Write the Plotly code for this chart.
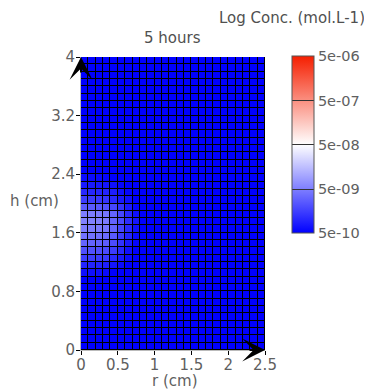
import numpy as np
import plotly.graph_objects as go

# Grid (cell centres, cm)
r_centers = [round(0.05 + 0.1 * i, 2) for i in range(25)]
h_centers = [round(0.05 + 0.1 * j, 2) for j in range(40)]

background_conc = 5e-10  # mol/L, everywhere outside the plume

# Plume patch: rows h-index 10..23, columns r-index 0..7
patch_row_start = 10
patch_conc = [
    [6.6e-10, 6.6e-10, 6.6e-10, 6.0e-10, 5.0e-10, 5.0e-10, 5.0e-10, 5.0e-10],
    [9.4e-10, 9.4e-10, 9.4e-10, 8.6e-10, 7.2e-10, 6.0e-10, 5.0e-10, 5.0e-10],
    [1.48e-9, 1.48e-9, 1.45e-9, 1.40e-9, 1.03e-9, 7.9e-10, 6.0e-10, 5.0e-10],
    [2.12e-9, 2.12e-9, 2.05e-9, 1.90e-9, 1.48e-9, 1.03e-9, 6.6e-10, 5.0e-10],
    [3.04e-9, 3.00e-9, 2.90e-9, 2.70e-9, 1.94e-9, 1.23e-9, 7.9e-10, 5.5e-10],
    [3.99e-9, 3.90e-9, 3.80e-9, 3.50e-9, 2.54e-9, 1.48e-9, 9.4e-10, 6.0e-10],
    [4.78e-9, 4.70e-9, 4.60e-9, 4.30e-9, 3.04e-9, 1.77e-9, 1.03e-9, 6.6e-10],
    [5.20e-9, 5.10e-9, 5.00e-9, 4.60e-9, 3.04e-9, 1.94e-9, 1.13e-9, 7.2e-10],
    [4.78e-9, 4.70e-9, 4.60e-9, 4.30e-9, 3.04e-9, 1.77e-9, 1.03e-9, 6.6e-10],
    [2.54e-9, 2.50e-9, 2.40e-9, 2.20e-9, 1.77e-9, 1.23e-9, 7.9e-10, 5.5e-10],
    [1.48e-9, 1.45e-9, 1.40e-9, 1.30e-9, 1.03e-9, 7.9e-10, 6.6e-10, 5.0e-10],
    [1.03e-9, 1.00e-9, 9.8e-10, 9.4e-10, 8.6e-10, 6.6e-10, 5.5e-10, 5.0e-10],
    [7.9e-10, 7.8e-10, 7.6e-10, 7.2e-10, 6.6e-10, 5.5e-10, 5.0e-10, 5.0e-10],
    [6.0e-10, 6.0e-10, 5.8e-10, 5.5e-10, 5.0e-10, 5.0e-10, 5.0e-10, 5.0e-10],
]

colorbar_vals = [5e-10, 5e-9, 5e-8, 5e-7, 5e-6]
colorbar_text = ["5e-10", "5e-09", "5e-08", "5e-07", "5e-06"]
x_ticks = [0, 0.5, 1, 1.5, 2, 2.5]
y_ticks = [0, 0.8, 1.6, 2.4, 3.2, 4]

conc = np.full((len(h_centers), len(r_centers)), background_conc)
for i, row in enumerate(patch_conc):
    conc[patch_row_start + i, :len(row)] = row
z = np.log10(conc)

FONT = "DejaVu Sans, sans-serif"
TXT = "#606060"

fig = go.Figure(go.Heatmap(
    x=r_centers, y=h_centers, z=z,
    zmin=np.log10(colorbar_vals[0]), zmax=np.log10(colorbar_vals[-1]),
    colorscale=[[0, "rgb(0,0,255)"], [0.5, "rgb(255,255,255)"], [1, "rgb(245,30,0)"]],
    xgap=1, ygap=1,
    colorbar=dict(
        tickvals=list(np.log10(colorbar_vals)), ticktext=colorbar_text,
        ticks="inside", ticklen=22, tickcolor="#333", tickwidth=1,
        thickness=22, lenmode="pixels", len=177,
        x=1.147, xanchor="left", xpad=0,
        y=0.70, yanchor="middle", ypad=0,
        outlinewidth=1, outlinecolor="#555",
        tickfont=dict(family=FONT, size=14.5, color=TXT),
    ),
    hoverinfo="skip",
))

ann_common = dict(xref="paper", yref="paper", showarrow=False,
                  xanchor="center", yanchor="middle")

fig.update_layout(
    width=372, height=392,
    margin=dict(l=73, r=115, t=49, b=50, autoexpand=False),
    paper_bgcolor="white", plot_bgcolor="black",
    font=dict(family=FONT, color=TXT),
    xaxis=dict(range=[0, 2.5], tickvals=x_ticks, ticktext=["0", "0.5", "1", "1.5", "2", "2.5"],
               ticks="outside", ticklen=4, tickcolor="black", showgrid=False, zeroline=False,
               showline=True, linecolor="#bbbbbb", ticklabelstandoff=-3,
               tickfont=dict(size=15, color=TXT)),
    yaxis=dict(range=[0, 4], tickvals=y_ticks, ticktext=["0", "0.8", "1.6", "2.4", "3.2", "4"],
               ticks="outside", ticklen=4, tickcolor="black", showgrid=False, zeroline=False,
               showline=True, linecolor="#bbbbbb", ticklabelstandoff=-2,
               tickfont=dict(size=15, color=TXT)),
    annotations=[
        dict(text="5 hours", x=0.495, y=1.065, font=dict(size=15, color="#505050"), **ann_common),
        dict(text="Log Conc. (mol.L-1)", x=1.147, y=1.133, font=dict(size=15, color="#505050"), **ann_common),
        dict(text="h (cm)", x=-0.255, y=0.508, font=dict(size=15, color=TXT), **ann_common),
        dict(text="r (cm)", x=0.51, y=-0.106, font=dict(size=15, color=TXT), **ann_common),
        dict(text="", x=0, y=4, xref="x", yref="y", ax=0, ay=17, showarrow=True,
             arrowhead=3, arrowsize=1.9, arrowwidth=2, arrowcolor="black"),
        dict(text="", x=2.5, y=0, xref="x", yref="y", ax=-17, ay=0, showarrow=True,
             arrowhead=3, arrowsize=1.9, arrowwidth=2, arrowcolor="black"),
    ],
)

fig.write_html("out.html")
